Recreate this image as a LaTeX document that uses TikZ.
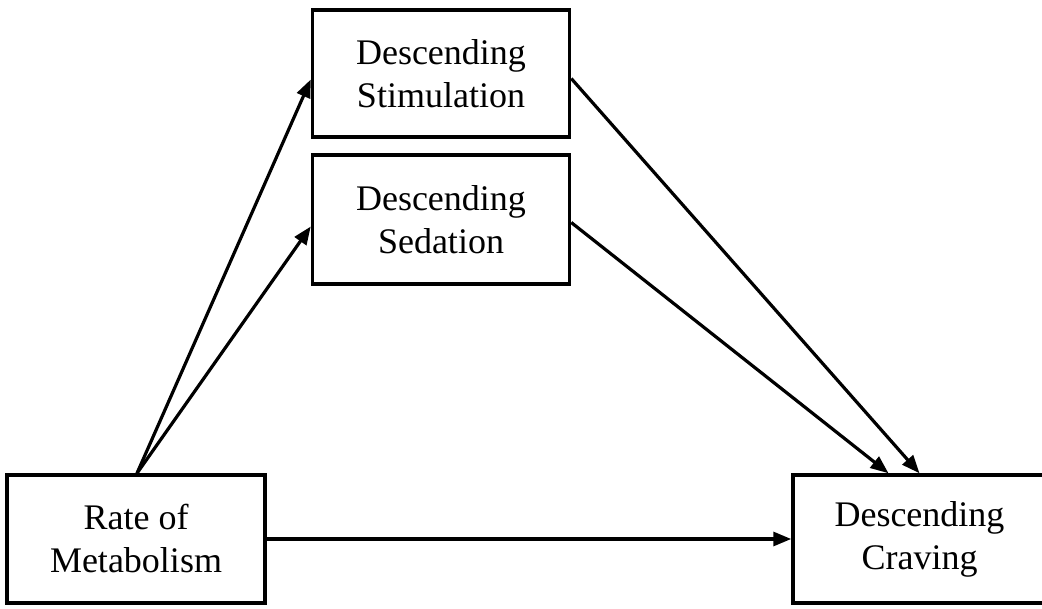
\documentclass[tikz,border=0pt]{standalone}
\usepackage{fontspec}
\setmainfont{Liberation Serif}
\usetikzlibrary{arrows.meta}
\begin{document}
\begin{tikzpicture}[x=1pt,y=-1pt,
  box/.style={draw,line width=3.5pt,rectangle,inner sep=0pt,align=center,
    font=\fontsize{36}{43}\selectfont},
  link/.style={line width=3.2pt,-{Triangle[length=18pt,width=14pt]}}]
  \useasboundingbox (0,0) rectangle (1042,609);
  \node[box,minimum width=257pt,minimum height=127pt] (stim) at (441,73.5) {Descending\\Stimulation};
  \node[box,minimum width=257pt,minimum height=129pt] (sed) at (441,219.5) {Descending\\Sedation};
  \node[box,minimum width=258pt,minimum height=128pt] (rate) at (136,539) {Rate of\\Metabolism};
  \node[box,minimum width=253pt,minimum height=128pt] (crav) at (919.5,539) {Descending\\Craving};
  \coordinate (src) at ([xshift=1pt]rate.north);
  \draw[link] (src) -- ([yshift=-6pt]stim.west);
  \draw[link] (src) -- ([yshift=-7pt]sed.west);
  \draw[link] (rate.east) -- (crav.west);
  \draw[link] ([yshift=-5pt]stim.east) -- (crav.north);
  \draw[link] ([yshift=-3pt]sed.east) -- ([xshift=-31pt]crav.north);
\end{tikzpicture}
\end{document}
